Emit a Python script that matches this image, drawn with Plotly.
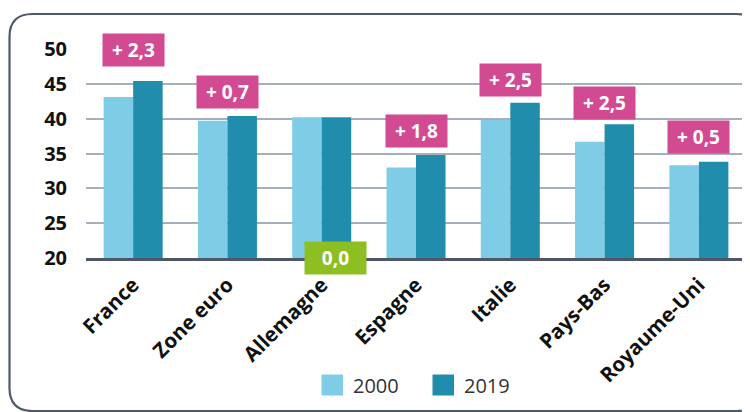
import plotly.graph_objects as go

categories = ["France", "Zone euro", "Allemagne", "Espagne", "Italie", "Pays-Bas", "Royaume-Uni"]
values_2000 = [43.1, 39.7, 40.2, 33.0, 39.8, 36.7, 33.3]
values_2019 = [45.4, 40.4, 40.2, 34.8, 42.3, 39.2, 33.8]
change_labels = ["+ 2,3", "+ 0,7", "0,0", "+ 1,8", "+ 2,5", "+ 2,5", "+ 0,5"]
label_y = [49.9, 43.8, 20.0, 38.2, 45.5, 42.2, 37.3]
y_ticks = [20, 25, 30, 35, 40, 45, 50]

# page renders the figure with an 8px body margin; compensate
OFF = 8
W, H = 750 - OFF, 412 - OFF
L, T = 86 - OFF, 49 - OFF
PW, PH = 660, 209
R, B = W - L - PW, H - T - PH

def px(x):
    return (x - 86) / PW

def py(y):
    return (258 - y) / PH

C_LIGHT = "#7ECCE5"
C_DARK = "#218DAD"
C_PINK = "#D24B92"
C_GREEN = "#8DBE22"
FONT = "Open Sans"

fig = go.Figure()
fig.add_trace(go.Bar(x=categories, y=values_2000, name="2000", marker_color=C_LIGHT,
                     marker_line_width=0, showlegend=False))
fig.add_trace(go.Bar(x=categories, y=values_2019, name="2019", marker_color=C_DARK,
                     marker_line_width=0, showlegend=False))

for cat, lab, yy in zip(categories, change_labels, label_y):
    neutral = lab.strip().startswith("0")
    fig.add_annotation(x=cat, y=yy, xref="x", yref="y", text=lab, showarrow=False,
                       xshift=14 if neutral else 0,
                       bgcolor=C_GREEN if neutral else C_PINK,
                       width=61, height=32, borderpad=0,
                       font=dict(family=FONT, size=19, color="white", weight=700),
                       yanchor="middle", xanchor="center")

# manual legend
for x0, col, lab in [(321.5, C_LIGHT, "2000"), (432.5, C_DARK, "2019")]:
    fig.add_shape(type="rect", xref="paper", yref="paper",
                  x0=px(x0), x1=px(x0 + 21.5), y0=py(395.5), y1=py(374.5),
                  fillcolor=col, line_width=0)
    fig.add_annotation(xref="paper", yref="paper", x=px(x0 + 29), y=py(385.5),
                       text=lab, showarrow=False, xanchor="left", yanchor="middle",
                       font=dict(family=FONT, size=20, color="#333333"))

# rounded frame
fx0, fy0, fx1, fy1, r = 9.5, 14, 759, 411, 23
path = (f"M {px(fx0)},{py(fy0 + r)} "
        f"Q {px(fx0)},{py(fy0)} {px(fx0 + r)},{py(fy0)} "
        f"L {px(fx1 - r)},{py(fy0)} "
        f"Q {px(fx1)},{py(fy0)} {px(fx1)},{py(fy0 + r)} "
        f"L {px(fx1)},{py(fy1 - r)} "
        f"Q {px(fx1)},{py(fy1)} {px(fx1 - r)},{py(fy1)} "
        f"L {px(fx0 + r)},{py(fy1)} "
        f"Q {px(fx0)},{py(fy1)} {px(fx0)},{py(fy1 - r)} Z")
fig.add_shape(type="path", path=path, xref="paper", yref="paper",
              line=dict(color="#4E5969", width=2.2), fillcolor="rgba(0,0,0,0)", layer="below")

fig.update_layout(
    width=W, height=H,
    margin=dict(l=L, r=R, t=T, b=B, autoexpand=False),
    paper_bgcolor="white", plot_bgcolor="white",
    barmode="group", bargap=0.374, bargroupgap=0,
    xaxis=dict(tickangle=-45, showgrid=False, showline=True, linecolor="#4D5766",
               linewidth=2.5, ticks="", ticklabelstandoff=4,
               tickfont=dict(family=FONT, size=20.5, color="#111111", weight=700)),
    yaxis=dict(range=[20, 50], tickvals=y_ticks, showgrid=True, gridcolor="#A7AFBB",
               gridwidth=1.5, zeroline=False, showline=False, ticks="",
               ticklabelstandoff=18,
               tickfont=dict(family=FONT, size=20, color="#111111", weight=700)),
)

fig.write_html("out.html")
